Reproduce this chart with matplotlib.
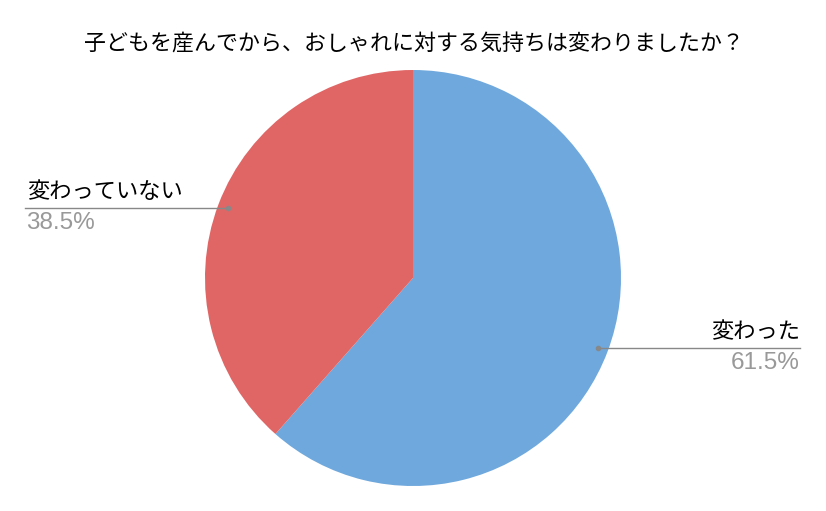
import numpy as np
import matplotlib
matplotlib.use("Agg")
import matplotlib.pyplot as plt

plt.rcParams['font.family'] = ['Noto Sans CJK JP', 'DejaVu Sans']

title = "子どもを産んでから、おしゃれに対する気持ちは変わりましたか？"
categories = ["変わった", "変わっていない"]
values = [61.5, 38.5]
colors = ["#6FA8DC", "#E06666"]

W, H = 826, 511
fig = plt.figure(figsize=(W / 100, H / 100), dpi=100)
ax = fig.add_axes([0, 0, 1, 1])

cx, cy, r = 413, H - 278, 208
wedges, _ = ax.pie(values, colors=colors, startangle=90, counterclock=False,
                   center=(cx, cy), radius=r, frame=True,
                   wedgeprops=dict(linewidth=0))
ax.set_xlim(0, W)
ax.set_ylim(0, H)
ax.set_aspect('equal')
ax.axis('off')

line_color = "#888888"
edges = {0: 800, 1: 25}
for i, w in enumerate(wedges):
    ang = np.deg2rad((w.theta1 + w.theta2) / 2)
    px = cx + 0.95 * r * np.cos(ang)
    py = cy + 0.95 * r * np.sin(ang)
    ex = edges[i]
    ax.plot([px, ex], [py, py], color=line_color, lw=1)
    ax.plot([px], [py], 'o', color=line_color, ms=3)
    ha = 'right' if ex > cx else 'left'
    ax.text(ex + (0 if ha == 'right' else 2), py + 5, categories[i], ha=ha, va='bottom',
            fontsize=16, color='black')
    ax.text(ex + (0 if ha == 'right' else 1), py - 4, f"{values[i]}%", ha=ha, va='top',
            fontsize=17.5, color='#999999', family=['Liberation Sans', 'DejaVu Sans'])

ax.text(W / 2 + 1, H - 45, title, ha='center', va='center', fontsize=15.8, color='black')

fig.savefig("out.png", dpi=100)
